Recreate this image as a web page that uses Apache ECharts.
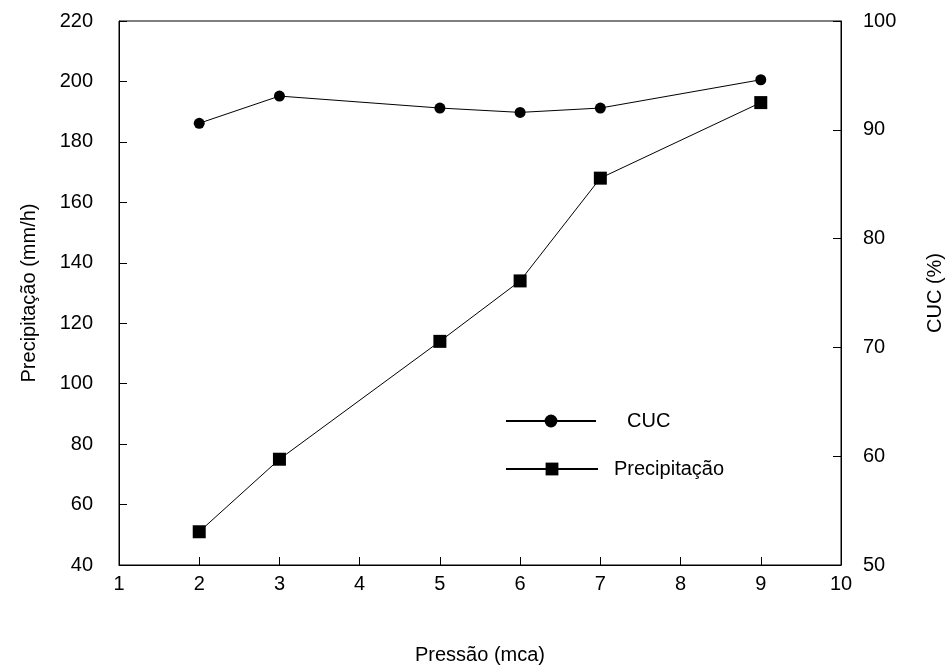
<!DOCTYPE html>
<html>
<head>
<meta charset="utf-8">
<script src="https://cdn.jsdelivr.net/npm/echarts@6/dist/echarts.min.js"></script>
<style>
  html, body { margin: 0; padding: 0; background: #fff; }
  #chart { width: 951px; height: 670px; }
</style>
</head>
<body>
<div id="chart"></div>
<script>
// Pressure (mca) at each measurement
const pressao = [2, 3, 5, 6, 7, 9];
// Precipitation rate (mm/h), left axis
const precipitacao = [51, 75, 114, 134, 168, 193];
// Uniformity coefficient CUC (%), right axis
const cuc = [90.6, 93.1, 92.0, 91.6, 92.0, 94.6];

const FONT = 'Liberation Sans, Arial, sans-serif';
const txt = { color: '#000', fontFamily: FONT, fontSize: 20 };

const chart = echarts.init(document.getElementById('chart'), null, { renderer: 'canvas' });

const axisCommon = {
  axisLine: { show: true, lineStyle: { color: '#000', width: 1 } },
  axisTick: { show: true, inside: true, length: 8, lineStyle: { color: '#000', width: 1 } },
  splitLine: { show: false },
  axisLabel: Object.assign({}, txt),
  nameTextStyle: Object.assign({}, txt)
};

chart.setOption({
  backgroundColor: '#fff',
  animation: false,
  grid: {
    left: 119, right: 110, top: 21, bottom: 105,
    outerBoundsMode: 'none', containLabel: false,
    show: true, borderColor: '#000', borderWidth: 1, backgroundColor: 'transparent'
  },
  legend: [
    {
      data: ['CUC'],
      left: 500, top: 406, padding: 5,
      itemWidth: 90, itemHeight: 16,
      textStyle: Object.assign({}, txt, { padding: [0, 0, 0, 26] })
    },
    {
      data: ['Precipitação'],
      left: 500, top: 454, padding: 5,
      itemWidth: 92, itemHeight: 16,
      textStyle: Object.assign({}, txt, { padding: [0, 0, 0, 11] })
    }
  ],
  xAxis: Object.assign({}, axisCommon, {
    type: 'value', min: 1, max: 10, interval: 1,
    name: 'Pressão (mca)', nameLocation: 'middle', nameGap: 80,
    axisLabel: Object.assign({}, txt, { margin: 9 })
  }),
  yAxis: [
    Object.assign({}, axisCommon, {
      type: 'value', min: 40, max: 220, interval: 20, position: 'left',
      name: 'Precipitação (mm/h)', nameLocation: 'middle', nameGap: 80,
      axisLabel: Object.assign({}, txt, { margin: 26 })
    }),
    Object.assign({}, axisCommon, {
      type: 'value', min: 50, max: 100, interval: 10, position: 'right',
      name: 'CUC (%)', nameLocation: 'middle', nameGap: 84,
      axisLabel: Object.assign({}, txt, { margin: 22 })
    })
  ],
  series: [
    {
      name: 'CUC', type: 'line', yAxisIndex: 1,
      data: pressao.map((p, i) => [p, cuc[i]]),
      symbol: 'circle', symbolSize: 11,
      itemStyle: { color: '#000' },
      lineStyle: { color: '#000', width: 1 }
    },
    {
      name: 'Precipitação', type: 'line', yAxisIndex: 0,
      data: pressao.map((p, i) => [p, precipitacao[i]]),
      symbol: 'rect', symbolSize: 13,
      itemStyle: { color: '#000' },
      lineStyle: { color: '#000', width: 1 }
    }
  ]
});
</script>
</body>
</html>
